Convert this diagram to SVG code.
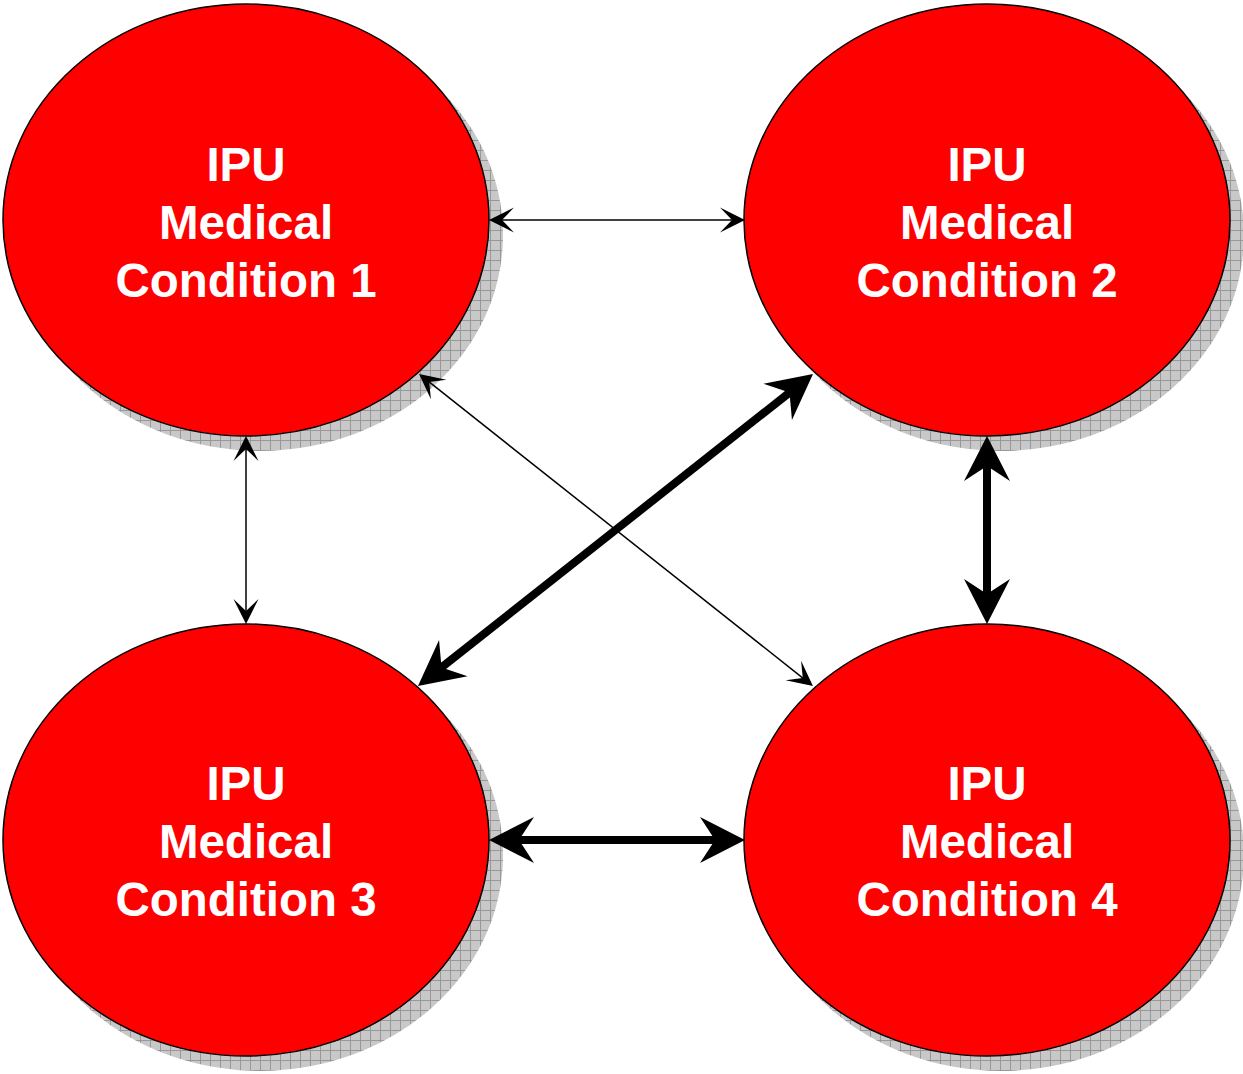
<svg xmlns="http://www.w3.org/2000/svg" width="1243" height="1074" viewBox="0 0 1243 1074">
<style>
.node{fill:#ff0000;stroke:#000;stroke-width:1.5}
.shadow{fill:url(#grid)}
.lbl{font-family:"Liberation Sans",Arial,sans-serif;font-weight:bold;font-size:47.5px;fill:#fff;text-anchor:middle}
.thin{stroke:#000;stroke-width:1.5;fill:none;marker-start:url(#ht);marker-end:url(#ht)}
.thick{stroke:#000;stroke-width:8;fill:none;marker-start:url(#hk);marker-end:url(#hk)}
</style>
<defs>
<pattern id="grid" width="10" height="10" patternUnits="userSpaceOnUse">
<rect width="10" height="10" fill="#c8c8c8"/>
<path d="M0,0.5H10M0.5,0V10" stroke="#989898" stroke-width="1"/>
</pattern>
<marker id="ht" viewBox="-16 -14 28 28" refX="0" refY="0" markerWidth="28" markerHeight="28" markerUnits="userSpaceOnUse" orient="auto-start-reverse">
<path d="M10,0 L-15,-12.5 L-3,0 L-15,12.5 Z" fill="#000"/>
</marker>
<marker id="hk" viewBox="-22 -25 50 50" refX="0" refY="0" markerWidth="50" markerHeight="50" markerUnits="userSpaceOnUse" orient="auto-start-reverse">
<path d="M25,0 L-20,-23 L-5,0 L-20,23 Z" fill="#000"/>
</marker>
</defs>
<g id="shadows">
<ellipse class="shadow" cx="260" cy="235" rx="243" ry="216"/>
<ellipse class="shadow" cx="1001" cy="235" rx="243" ry="216"/>
<ellipse class="shadow" cx="260" cy="855" rx="243" ry="216"/>
<ellipse class="shadow" cx="1001" cy="855" rx="243" ry="216"/>
</g>
<g id="node1">
<ellipse class="node" cx="246" cy="220" rx="243" ry="216"/>
<text class="lbl" x="246" y="181">IPU</text>
<text class="lbl" x="246" y="239">Medical</text>
<text class="lbl" x="246" y="297">Condition 1</text>
</g>
<g id="node2">
<ellipse class="node" cx="987" cy="220" rx="243" ry="216"/>
<text class="lbl" x="987" y="181">IPU</text>
<text class="lbl" x="987" y="239">Medical</text>
<text class="lbl" x="987" y="297">Condition 2</text>
</g>
<g id="node3">
<ellipse class="node" cx="246" cy="840" rx="243" ry="216"/>
<text class="lbl" x="246" y="800">IPU</text>
<text class="lbl" x="246" y="858">Medical</text>
<text class="lbl" x="246" y="916">Condition 3</text>
</g>
<g id="node4">
<ellipse class="node" cx="987" cy="840" rx="243" ry="216"/>
<text class="lbl" x="987" y="800">IPU</text>
<text class="lbl" x="987" y="858">Medical</text>
<text class="lbl" x="987" y="916">Condition 4</text>
</g>
<g id="connectors">
<line class="thin" x1="499" y1="220" x2="735" y2="220"/>
<line class="thin" x1="246" y1="446" x2="246" y2="614"/>
<line class="thin" x1="426.9" y1="380.2" x2="805.1" y2="679.8"/>
<line class="thick" x1="793.4" y1="389.5" x2="437.6" y2="670.5"/>
<line class="thick" x1="987" y1="461" x2="987" y2="599"/>
<line class="thick" x1="514" y1="840" x2="720" y2="840"/>
</g>
</svg>
